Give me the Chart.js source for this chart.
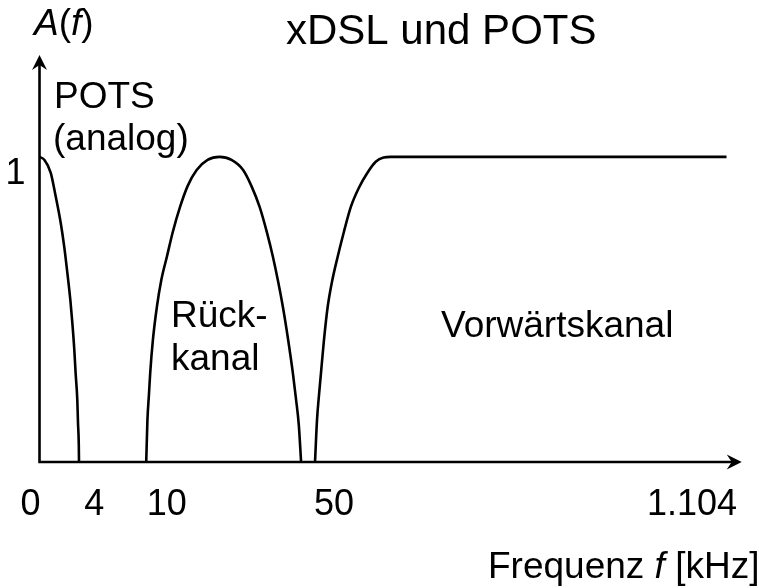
<!DOCTYPE html>
<html>
<head>
<meta charset="utf-8">
<script src="https://cdn.jsdelivr.net/npm/chart.js@4.4.1/dist/chart.umd.min.js"></script>
<style>
  html, body { margin: 0; padding: 0; background: #fff; }
  #wrap { width: 759px; height: 588px; }
</style>
</head>
<body>
<div id="wrap"><canvas id="c"></canvas></div>
<script>
// --- data (x in drawing units along the frequency axis, y = A(f)) ---
const potsX = [0, 5, 11.3, 16, 21.3, 25, 28, 31, 33, 35, 36.3, 38, 38.7, 39.5, 39.7];
const potsY = [1.0, 0.99, 0.948, 0.875, 0.784, 0.702, 0.62, 0.531, 0.456, 0.367, 0.292, 0.203, 0.128, 0.056, 0];

const rueckX = [107.3, 108.5, 110, 111.3, 114, 118, 122.5, 128, 134, 141.3, 149, 158, 169, 181,
                193, 204.7, 213, 221.3, 228.5, 234.7, 240, 244.7, 250, 254.7, 258, 260.7, 263];
const rueckY = [0, 0.138, 0.22, 0.292, 0.4, 0.508, 0.597, 0.672, 0.754, 0.836, 0.905, 0.957, 0.99, 1.0,
                0.99, 0.957, 0.905, 0.836, 0.754, 0.672, 0.59, 0.508, 0.4, 0.292, 0.203, 0.121, 0];

const vorX = [277, 279, 281, 283, 286, 289.7, 294, 299.7, 306, 313, 321, 329.7, 338, 346, 353, 690.7];
const vorY = [0, 0.138, 0.22, 0.292, 0.4, 0.508, 0.59, 0.672, 0.754, 0.836, 0.898, 0.948, 0.984, 0.998, 1.0, 1.0];

const xTickPos = [-9, 55, 128, 296, 656];
const xTickLabels = ['0', '4', '10', '50', '1.104'];
const yTicks = [1];

const FONT = '"Liberation Sans", Arial, sans-serif';

function pts(xs, ys) {
    return xs.map((x, i) => ({ x: x, y: ys[i] }));
}

function line(xs, ys) {
    return {
        data: pts(xs, ys),
        borderColor: '#000',
        borderWidth: 2.6,
        pointRadius: 0,
        fill: false,
        cubicInterpolationMode: 'monotone'
    };
}

// mixed italic / normal text runs
function drawRuns(ctx, x, y, runs, size) {
    runs.forEach(r => {
        ctx.font = (r[1] ? 'italic ' : '') + size + 'px ' + FONT;
        ctx.fillText(r[0], x, y);
        x += ctx.measureText(r[0]).width;
    });
}

function arrow(ctx, tx, ty, dir) {
    // stealth style head
    const L = 15, W = 7.5, N = 10;
    ctx.beginPath();
    if (dir === 'up') {
        ctx.moveTo(tx, ty);
        ctx.lineTo(tx + W, ty + L);
        ctx.lineTo(tx, ty + N);
        ctx.lineTo(tx - W, ty + L);
    } else {
        ctx.moveTo(tx, ty);
        ctx.lineTo(tx - L, ty - W);
        ctx.lineTo(tx - N, ty);
        ctx.lineTo(tx - L, ty + W);
    }
    ctx.closePath();
    ctx.fill();
}

const axesPlugin = {
    id: 'axesArrows',
    beforeDatasetsDraw(chart) {
        const ctx = chart.ctx;
        const a = chart.chartArea;
        ctx.save();
        ctx.strokeStyle = '#000';
        ctx.fillStyle = '#000';
        ctx.lineWidth = 2.6;
        ctx.beginPath();
        ctx.moveTo(a.left, a.top + 6);
        ctx.lineTo(a.left, a.bottom);
        ctx.lineTo(a.right - 6, a.bottom);
        ctx.stroke();
        arrow(ctx, a.left, a.top, 'up');
        arrow(ctx, a.right, a.bottom, 'right');
        ctx.restore();
    }
};

const textPlugin = {
    id: 'texts',
    afterDraw(chart) {
        const ctx = chart.ctx;
        ctx.save();
        ctx.fillStyle = '#000';
        ctx.textAlign = 'left';
        ctx.textBaseline = 'alphabetic';
        drawRuns(ctx, 34, 35, [['A', true], ['(', false], ['f', true], [')', false]], 37);
        ctx.font = '42px ' + FONT;
        ctx.fillText('xDSL und POTS', 286, 44);
        ctx.font = '37px ' + FONT;
        ctx.fillText('POTS', 54, 108);
        ctx.fillText('(analog)', 53, 150);
        ctx.fillText('Rück-', 171, 327);
        ctx.fillText('kanal', 171, 370);
        ctx.fillText('Vorwärtskanal', 441, 337);
        drawRuns(ctx, 488, 578, [['Frequenz ', false], ['f', true], [' [kHz]', false]], 37);
        ctx.restore();
    }
};

new Chart(document.getElementById('c'), {
    type: 'line',
    data: {
        datasets: [line(potsX, potsY), line(rueckX, rueckY), line(vorX, vorY)]
    },
    options: {
        responsive: true,
        maintainAspectRatio: false,
        animation: false,
        layout: { padding: { top: 55, right: 16, left: 0, bottom: 0 } },
        plugins: { legend: { display: false }, tooltip: { enabled: false } },
        scales: {
            x: {
                type: 'linear',
                min: 0,
                max: 706,
                afterBuildTicks: s => { s.ticks = xTickPos.map(v => ({ value: v })); },
                afterFit: s => { s.height = 126; },
                grid: { display: false, drawTicks: false },
                border: { display: false },
                ticks: {
                    autoSkip: false,
                    maxRotation: 0,
                    padding: 21,
                    color: '#000',
                    font: { family: FONT, size: 36 },
                    callback: (v, i) => xTickLabels[i]
                }
            },
            y: {
                min: 0,
                max: 1.334,
                afterBuildTicks: s => { s.ticks = yTicks.map(v => ({ value: v })); },
                afterFit: s => { s.width = 37; },
                grid: { display: false, drawTicks: false },
                border: { display: false },
                ticks: {
                    padding: 14,
                    labelOffset: 17,
                    color: '#000',
                    font: { family: FONT, size: 36 }
                }
            }
        }
    },
    plugins: [axesPlugin, textPlugin]
});
</script>
</body>
</html>
